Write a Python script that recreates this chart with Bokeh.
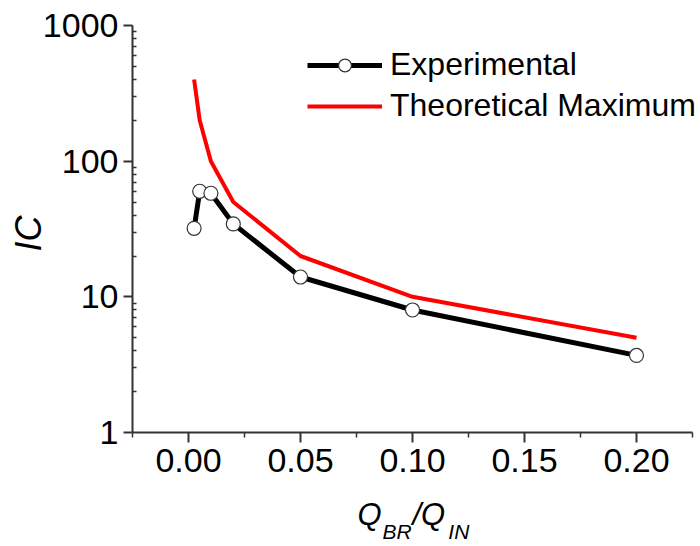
import math
from bokeh.plotting import figure
from bokeh.models import (FixedTicker, Label, Range1d, Legend, LegendItem,
                          NumeralTickFormatter, LinearAxis, LogAxis)
from bokeh.embed import file_html
from bokeh.resources import INLINE

# data
ratio = [0.0025, 0.005, 0.01, 0.02, 0.05, 0.10, 0.20]
experimental = [32, 60, 58, 34.5, 14, 8.0, 3.7]
theoretical = [400, 200, 100, 50, 20, 10, 5]
x_ticks = [0.0, 0.05, 0.10, 0.15, 0.20]
x_minor = [-0.025, 0.025, 0.075, 0.125, 0.175, 0.225]
y_ticks = [1, 10, 100, 1000]

FONT = "Liberation Sans"

# plotting area spans the whole canvas; axes are pinned at x=-0.025 and y=1
p = figure(width=700, height=546, y_axis_type="log",
           x_range=Range1d(-0.083929, 0.228571), y_range=Range1d(0.14445, 1528.9),
           x_axis_location=None, y_axis_location=None,
           output_backend="svg", toolbar_location=None,
           min_border_left=0, min_border_top=0, min_border_right=0, min_border_bottom=0)
p.outline_line_color = None
p.grid.visible = False
p.background_fill_color = "white"

r_th = p.line(ratio, theoretical, line_color="#ff0000", line_width=4)
r_ex = p.line(ratio, experimental, line_color="black", line_width=5)
r_pt = p.scatter(ratio, experimental, size=14, marker="circle",
                 fill_color="white", line_color="#333333", line_width=1.2)

legend = Legend(items=[LegendItem(label="Experimental", renderers=[r_ex, r_pt]),
                       LegendItem(label="Theoretical Maximum", renderers=[r_th])],
                location=(307, 422), border_line_color=None, background_fill_alpha=0,
                padding=0, spacing=4, glyph_width=75, glyph_height=32,
                label_text_font=FONT, label_text_font_size="32px", label_standoff=8,
                label_text_color="black", margin=0)
p.add_layout(legend, "center")

xaxis = LinearAxis(fixed_location=1, bounds=(-0.025, 0.225))
yaxis = LogAxis(fixed_location=-0.025, bounds=(1, 1000))
p.add_layout(xaxis, "below")
p.add_layout(yaxis, "left")

minor_y = [m * 10 ** e for e in range(0, 3) for m in range(2, 10)]
yaxis.ticker = FixedTicker(ticks=y_ticks, minor_ticks=minor_y)
xaxis.ticker = FixedTicker(ticks=x_ticks, minor_ticks=x_minor)
xaxis.formatter = NumeralTickFormatter(format="0.00")
yaxis.major_label_overrides = {1: "1", 10: "10", 100: "100", 1000: "1000"}

for ax in (xaxis, yaxis):
    ax.axis_line_width = 2
    ax.axis_line_color = "#333333"
    ax.major_tick_line_color = "#333333"
    ax.minor_tick_line_color = "#333333"
    ax.major_tick_line_width = 2
    ax.minor_tick_line_width = 1.5
    ax.major_label_text_font = FONT
    ax.major_label_text_font_size = "34px"
    ax.major_label_text_color = "black"

yaxis.major_tick_out = 9
yaxis.major_tick_in = 0
yaxis.minor_tick_out = 0
yaxis.minor_tick_in = 4
yaxis.major_label_standoff = 5
xaxis.major_tick_out = 10
xaxis.major_tick_in = 0
xaxis.minor_tick_out = 5
xaxis.minor_tick_in = 0
xaxis.major_label_standoff = 6

# axis titles as labels (data units)
p.add_layout(Label(x=-0.0714, y=29.3, text="IC", text_color="black",
                   angle=math.pi / 2, text_align="center", text_baseline="middle",
                   text_font=FONT, text_font_size="36px", text_font_style="italic"))

parts = [("Q", 0.07545, 0.2486, "31px"), ("BR", 0.0866, 0.1863, "21px"),
         ("/Q", 0.1000, 0.2486, "31px"), ("IN", 0.1160, 0.1863, "21px")]
for t, xx, yy, fs in parts:
    p.add_layout(Label(x=xx, y=yy, text=t, text_color="black",
                       text_align="left", text_baseline="alphabetic",
                       text_font=FONT, text_font_size=fs, text_font_style="italic"))

open("out.html", "w").write(file_html(p, INLINE))
